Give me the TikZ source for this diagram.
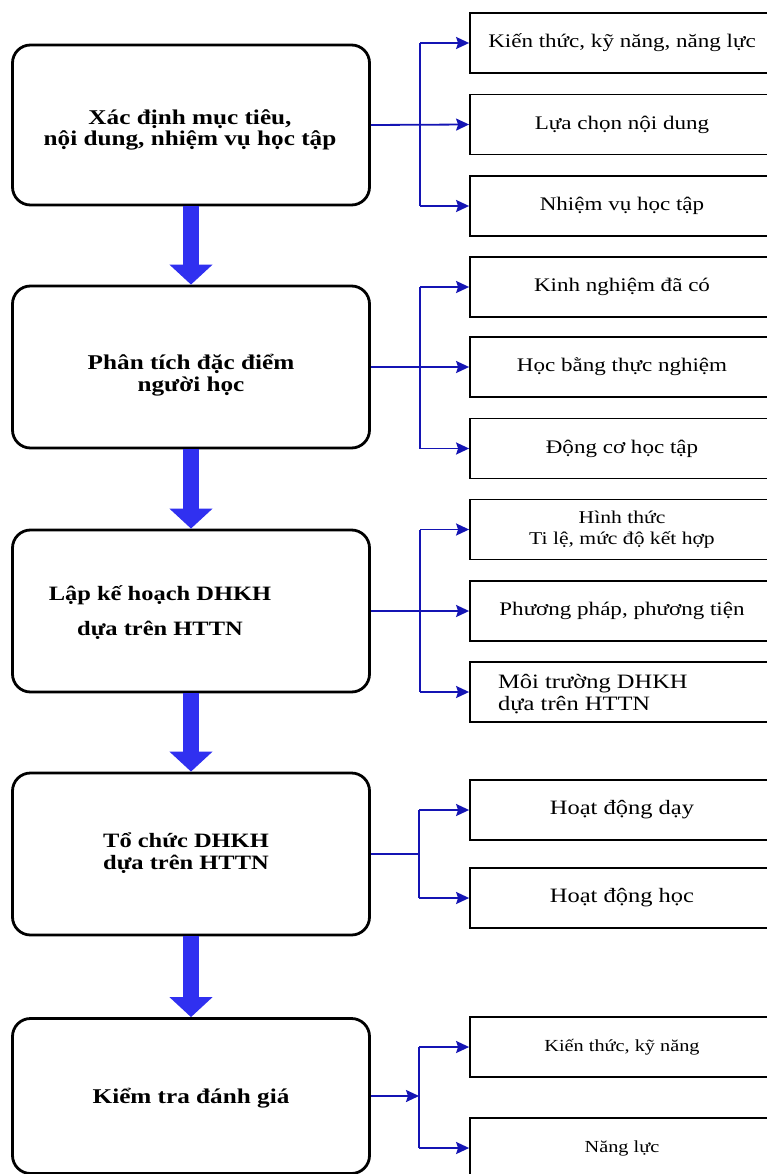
\documentclass[tikz,border=0pt]{standalone}
\usepackage{fontspec}
\setmainfont{Liberation Serif}[FakeStretch=1.2]
\usetikzlibrary{arrows.meta}
\definecolor{flowblue}{RGB}{48,48,240}
\definecolor{linkblue}{RGB}{20,20,180}
\setlength{\lineskiplimit}{-100pt}
\begin{document}
\begin{tikzpicture}[x=1pt,y=-1pt,
  mainbox/.style={draw=black, line width=2.8pt, rounded corners=18pt, minimum width=357pt, inner sep=0pt, fill=white},
  sidebox/.style={draw=black, line width=1.8pt, minimum width=304pt, minimum height=60pt, inner sep=0pt, align=center},
  maintext/.style={align=center, inner sep=0pt, font=\bfseries\fontsize{21}{21}\selectfont},
  sidetext/.style={font=\fontsize{19.2}{20}\selectfont},
  flow/.style={draw=flowblue, line width=16pt, -{Triangle[length=20pt,width=42pt]}},
  link/.style={draw=linkblue, line width=1.8pt},
  linkarrow/.style={link, -{Stealth[length=13pt,width=12pt,inset=2pt]}},
]
\useasboundingbox (0,0) rectangle (767,1174);
\clip (0,0) rectangle (767,1174);
\fill[white] (0,0) rectangle (767,1174);

% main boxes
\node[mainbox, minimum height=160pt] (m1) at (191,125) {};
\node[mainbox, minimum height=162pt] (m2) at (191,367) {};
\node[mainbox, minimum height=162pt] (m3) at (191,611) {};
\node[mainbox, minimum height=162pt] (m4) at (191,854) {};
\node[mainbox, minimum height=155pt] (m5) at (191,1096) {};

\node[maintext] (t1) at (190,130) {Xác định mục tiêu,\\nội dung, nhiệm vụ học tập};
\node[maintext, font=\bfseries\fontsize{21}{22}\selectfont] (t2) at (191,375) {Phân tích đặc điểm\\người học};
\node[maintext, font=\bfseries\fontsize{20.4}{35}\selectfont] (t3) at (160,613) {Lập kế hoạch DHKH\\dựa trên HTTN};
\node[maintext, font=\bfseries\fontsize{20.4}{22}\selectfont] (t4) at (186,853) {Tổ chức DHKH\\dựa trên HTTN};
\node[maintext] (t5) at (191,1098) {Kiểm tra đánh giá};

% thick flow arrows
\draw[flow] (m1.south) -- (m2.north);
\draw[flow] (m2.south) -- (m3.north);
\draw[flow] (m3.south) -- (m4.north);
\draw[flow] (m4.south) -- (m5.north);

% side boxes
\node[sidebox, sidetext] (s11) at (622,43) {Kiến thức, kỹ năng, năng lực};
\node[sidebox, sidetext] (s12) at (622,124.5) {Lựa chọn nội dung};
\node[sidebox, sidetext] (s13) at (622,206) {Nhiệm vụ học tập};

\node[sidebox, sidetext] (s21) at (622,287) {Kinh nghiệm đã có};
\node[sidebox, sidetext] (s22) at (622,367) {Học bằng thực nghiệm};
\node[sidebox, sidetext] (s23) at (622,448.5) {Động cơ học tập};

\node[sidebox, font=\fontsize{18}{21}\selectfont] (s31) at (622,529.5) {Hình thức\\Ti lệ, mức độ kết hợp};
\node[sidebox, sidetext] (s32) at (622,611) {Phương pháp, phương tiện};
\node[sidebox] (s33) at (622,692) {};
\node[anchor=west, align=left, inner sep=0pt, font=\fontsize{20.4}{22}\selectfont] (x33) at (498,694) {Môi trường DHKH\\dựa trên HTTN};

\node[sidebox, font=\fontsize{20.4}{20}\selectfont] (s41) at (622,810) {Hoạt động dạy};
\node[sidebox, font=\fontsize{20.4}{20}\selectfont] (s42) at (622,898) {Hoạt động học};

\node[sidebox, font=\fontsize{16.9}{18}\selectfont] (s51) at (622,1047) {Kiến thức, kỹ năng};
\node[sidebox, font=\fontsize{16.9}{18}\selectfont] (s52) at (622,1148) {Năng lực};

% junction columns
\coordinate (j1) at (420,0);
\coordinate (j4) at (419,0);

% group 1
\draw[link] (j1 |- s11.west) -- (j1 |- s13.west);
\draw[linkarrow] (m1.east) -- (s12.west);
\draw[linkarrow] (j1 |- s11.west) -- (s11.west);
\draw[linkarrow] (j1 |- s13.west) -- (s13.west);

% group 2
\draw[link] (j1 |- s21.west) -- (j1 |- s23.west);
\draw[linkarrow] (m2.east) -- (s22.west);
\draw[linkarrow] (j1 |- s21.west) -- (s21.west);
\draw[linkarrow] (j1 |- s23.west) -- (s23.west);

% group 3
\draw[link] (j1 |- s31.west) -- (j1 |- s33.west);
\draw[linkarrow] (m3.east) -- (s32.west);
\draw[linkarrow] (j1 |- s31.west) -- (s31.west);
\draw[linkarrow] (j1 |- s33.west) -- (s33.west);

% group 4
\draw[link] (j4 |- s41.west) -- (j4 |- s42.west);
\draw[link] (m4.east) -- (j4 |- m4.east);
\draw[linkarrow] (j4 |- s41.west) -- (s41.west);
\draw[linkarrow] (j4 |- s42.west) -- (s42.west);

% group 5
\draw[link] (j4 |- s51.west) -- (j4 |- s52.west);
\draw[linkarrow] (m5.east) -- (j4 |- m5.east);
\draw[linkarrow] (j4 |- s51.west) -- (s51.west);
\draw[linkarrow] (j4 |- s52.west) -- (s52.west);
\end{tikzpicture}
\end{document}
